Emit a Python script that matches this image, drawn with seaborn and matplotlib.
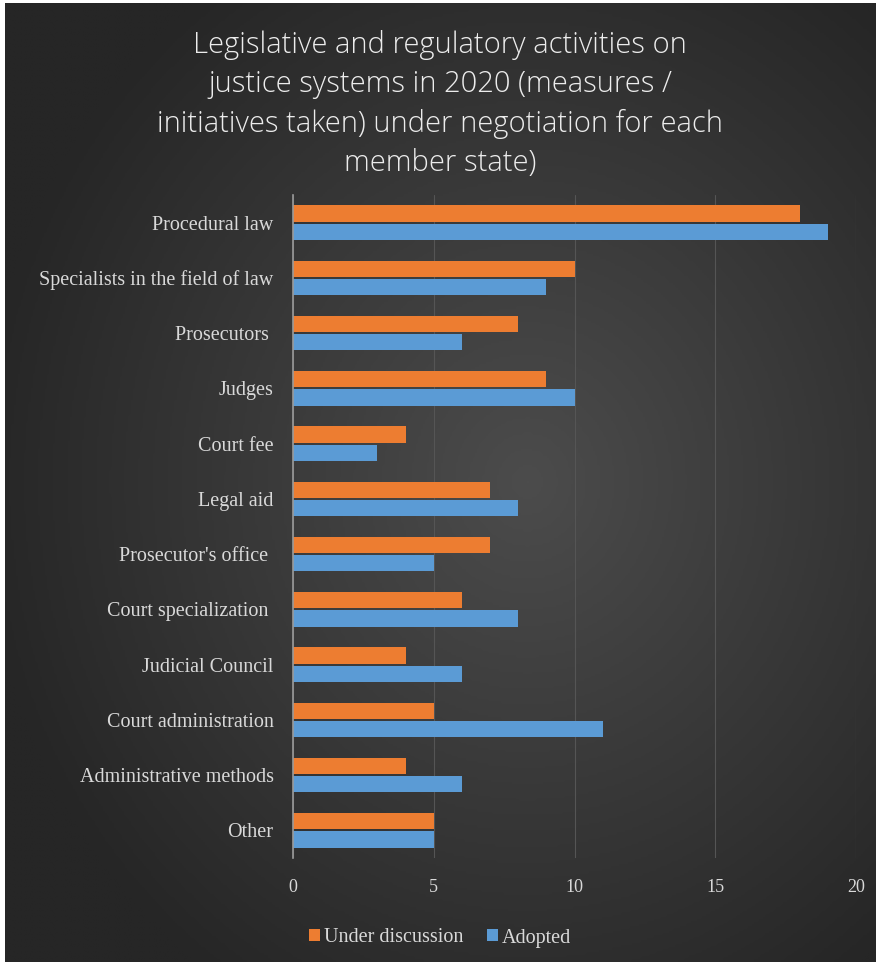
import numpy as np
import pandas as pd
import matplotlib.pyplot as plt
import seaborn as sns

# data
categories = ["Procedural law", "Specialists in the field of law", "Prosecutors ",
              "Judges", "Court fee", "Legal aid", "Prosecutor's office ",
              "Court specialization ", "Judicial Council", "Court administration",
              "Administrative methods", "Other"]
under_discussion = [18, 10, 8, 9, 4, 7, 7, 6, 4, 5, 4, 5]
adopted = [19, 9, 6, 10, 3, 8, 5, 8, 6, 11, 6, 5]
series = ["Under discussion", "Adopted"]
colors = ["#ED7D31", "#5B9BD5"]
x_ticks = [0, 5, 10, 15, 20]

title = ("Legislative and regulatory activities on\njustice systems in 2020 (measures /\n"
         "initiatives taken) under negotiation for each\nmember state)")

df = pd.DataFrame({
    "category": categories * 2,
    "value": under_discussion + adopted,
    "series": [series[0]] * len(categories) + [series[1]] * len(categories),
})

sns.set_theme(style="white")
fig = plt.figure(figsize=(8.8, 9.65), dpi=100, facecolor="white")

# dark radial gradient background
bg = fig.add_axes([5 / 880, 3 / 965, 870 / 880, 959 / 965], zorder=0)
yy, xx = np.mgrid[0:1:400j, 0:1:400j]
r = np.sqrt(((xx - 0.6) / 0.9) ** 2 + ((yy - 0.5) / 0.9) ** 2)
bg.imshow(r, cmap=sns.blend_palette(["#4c4c4c", "#262626"], as_cmap=True),
          extent=[0, 1, 0, 1], aspect="auto", vmin=0, vmax=0.7)
bg.set_axis_off()

ax = fig.add_axes([293 / 880, 1 - 858 / 965, 563 / 880, 663 / 965], zorder=1)
ax.patch.set_alpha(0)
sns.barplot(data=df, y="category", x="value", hue="series", palette=colors,
            orient="h", width=0.66, gap=0.1, ax=ax, legend=True,
            edgecolor="none", saturation=1)

ax.set_xlim(0, 20)
ax.set_xticks(x_ticks)
ax.xaxis.grid(True, color="#555555", linewidth=0.8)
ax.set_axisbelow(True)
for s in ["top", "right", "bottom"]:
    ax.spines[s].set_visible(False)
ax.spines["left"].set_color("#9a9a9a")
ax.spines["left"].set_linewidth(1.2)
ax.set_xlabel("")
ax.set_ylabel("")
ax.tick_params(axis="x", length=0, pad=15, labelcolor="#d9d9d9", labelsize=13)
ax.tick_params(axis="y", length=0, pad=14, labelcolor="#d9d9d9", labelsize=14.5)
for t in ax.get_xticklabels() + ax.get_yticklabels():
    t.set_family("Liberation Serif")

handles, labels = ax.get_legend_handles_labels()
ax.legend_.remove()
fig.legend(handles, labels, loc="center", bbox_to_anchor=(0.5, 1 - 938 / 965),
           ncol=2, frameon=False, handlelength=0.55, handleheight=0.55,
           handletextpad=0.2, columnspacing=1.2,
           prop={"family": "Liberation Serif", "size": 14.5}, labelcolor="#d9d9d9")

fig.text(0.5, 1 - 104 / 965, title, ha="center", va="center", fontsize=21,
         color="#ececec", family="Open Sans", fontweight="light", linespacing=1.42)

fig.savefig("out.png", dpi=100, facecolor="white")
